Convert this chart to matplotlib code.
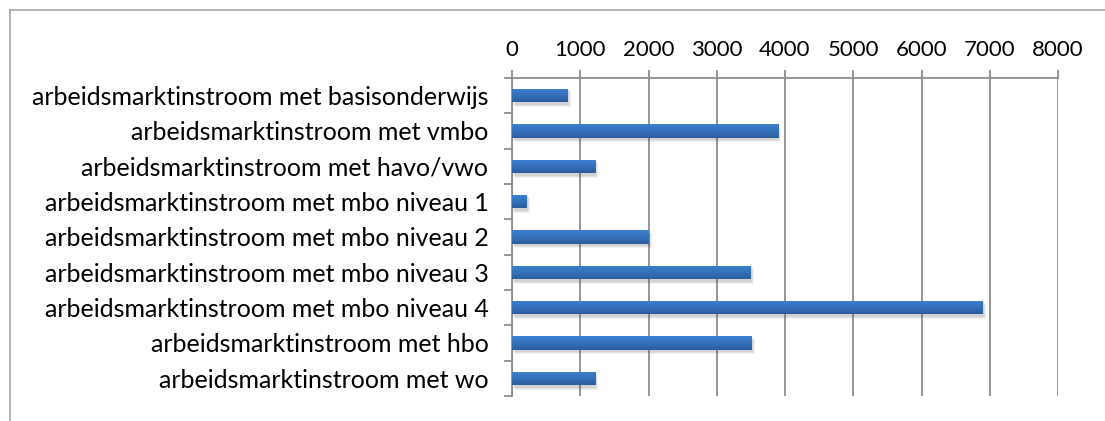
import matplotlib
matplotlib.use('Agg')
import matplotlib.pyplot as plt
import matplotlib.transforms as mtransforms
from matplotlib.lines import Line2D
import numpy as np

categories = [
    'arbeidsmarktinstroom met basisonderwijs',
    'arbeidsmarktinstroom met vmbo',
    'arbeidsmarktinstroom met havo/vwo',
    'arbeidsmarktinstroom met mbo niveau 1',
    'arbeidsmarktinstroom met mbo niveau 2',
    'arbeidsmarktinstroom met mbo niveau 3',
    'arbeidsmarktinstroom met mbo niveau 4',
    'arbeidsmarktinstroom met hbo',
    'arbeidsmarktinstroom met wo',
]
values = [820, 3900, 1220, 215, 2000, 3500, 6900, 3510, 1220]
x_ticks = [0, 1000, 2000, 3000, 4000, 5000, 6000, 7000, 8000]

plt.rcParams['font.family'] = ['Lato', 'DejaVu Sans']
grid_col = '#8c8c8c'

fig = plt.figure(figsize=(11.05, 4.21), dpi=100)
ax = fig.add_axes([512 / 1105, 1 - 396 / 421, (1058 - 512) / 1105, (396 - 78) / 421])

y = np.arange(len(categories))
bar_h = 0.37

# soft shadow below/right of each bar
for dx, dy, a in [(3, -4, 0.08), (2, -3, 0.10), (1, -2, 0.10)]:
    off = mtransforms.offset_copy(ax.transData, fig=fig, x=dx, y=dy, units='dots')
    ax.barh(y, values, height=bar_h + 0.04, color='#555555', alpha=a,
            transform=off, zorder=2, linewidth=0)

bars = ax.barh(y, values, height=bar_h, color='#3a74c0', zorder=3, linewidth=0)

# vertical gradient on the bars
grad = np.linspace(0, 1, 64).reshape(-1, 1)
cmap = matplotlib.colors.LinearSegmentedColormap.from_list('b', ['#3d7fcf', '#3671bd', '#2c5c9c'])
for b in bars:
    x0, y0 = b.get_x(), b.get_y()
    w, h = b.get_width(), b.get_height()
    im = ax.imshow(grad, cmap=cmap, aspect='auto', extent=[x0, x0 + w, y0 + h, y0],
                   zorder=4, interpolation='bilinear')
    im.set_clip_path(b)

ax.set_xlim(0, 8000)
ax.set_ylim(len(categories) - 0.5, -0.5)

ax.xaxis.tick_top()
ax.set_xticks(x_ticks)
ax.set_xticklabels([str(t) for t in x_ticks])
ax.tick_params(axis='x', which='major', direction='out', length=5.8, width=1.3,
               color=grid_col, labelsize=16, pad=7)
ax.grid(axis='x', color=grid_col, linewidth=1.3, zorder=1)

ax.set_yticks(y)
ax.set_yticklabels(categories)
ax.set_yticks(np.arange(-0.5, len(categories)), minor=True)
ax.tick_params(axis='y', which='major', length=0, labelsize=18, pad=17)
ax.tick_params(axis='y', which='minor', direction='out', length=5.8, width=1.3, color=grid_col)

for side in ['right', 'bottom']:
    ax.spines[side].set_visible(False)
for side in ['top', 'left']:
    ax.spines[side].set_color(grid_col)
    ax.spines[side].set_linewidth(1.3)

# outer chart frame (only top and left visible in crop)
fig.add_artist(Line2D([10 / 1105, 10 / 1105], [0, 1 - 10 / 421], transform=fig.transFigure,
                      color='#a6a6a6', linewidth=1.2))
fig.add_artist(Line2D([10 / 1105, 1], [1 - 10 / 421, 1 - 10 / 421], transform=fig.transFigure,
                      color='#a6a6a6', linewidth=1.2))

fig.savefig('out.png', dpi=100)
